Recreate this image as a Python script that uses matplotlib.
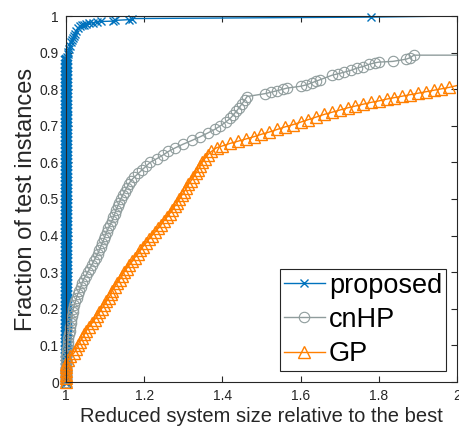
import numpy as np
import matplotlib
matplotlib.use("Agg")
import matplotlib.pyplot as plt
from matplotlib.ticker import FuncFormatter

plt.rcParams['font.family'] = ['Liberation Sans', 'DejaVu Sans']

# proposed (blue): most instances sit at ratio 1.0
prop_x = [1.0, 1.0, 1.0, 1.0, 1.0, 1.0, 1.0, 1.0, 1.0, 1.0, 1.0, 1.0, 1.0, 1.0, 1.0,
          1.0, 1.0, 1.0, 1.0, 1.0, 1.0, 1.0, 1.0, 1.0, 1.0, 1.0, 1.0, 1.0, 1.0, 1.0,
          1.0, 1.0, 1.0, 1.0, 1.0, 1.0, 1.0, 1.0, 1.0, 1.0, 1.0, 1.0, 1.0, 1.0, 1.0,
          1.0, 1.0, 1.0, 1.0, 1.0, 1.0, 1.0, 1.0, 1.0, 1.0, 1.0, 1.0, 1.0, 1.0, 1.0,
          1.0, 1.0, 1.0, 1.0, 1.0, 1.0, 1.0, 1.0, 1.0, 1.0, 1.0, 1.0, 1.0, 1.0, 1.0,
          1.0, 1.0, 1.0, 1.0, 1.0, 1.0, 1.0, 1.0, 1.0, 1.0, 1.0, 1.0, 1.0, 1.0,
          1.002, 1.004, 1.006, 1.008, 1.01, 1.013, 1.015, 1.018, 1.02, 1.022, 1.026,
          1.03, 1.035, 1.04, 1.045, 1.05, 1.06, 1.07, 1.08, 1.09, 1.12, 1.125, 1.16,
          1.17, 1.78, 2.0]
prop_y = [0.00, 0.01, 0.02, 0.03, 0.04, 0.05, 0.06, 0.07, 0.08, 0.09, 0.10, 0.11,
          0.12, 0.13, 0.14, 0.15, 0.16, 0.17, 0.18, 0.19, 0.20, 0.21, 0.22, 0.23,
          0.24, 0.25, 0.26, 0.27, 0.28, 0.29, 0.30, 0.31, 0.32, 0.33, 0.34, 0.35,
          0.36, 0.37, 0.38, 0.39, 0.40, 0.41, 0.42, 0.43, 0.44, 0.45, 0.46, 0.47,
          0.48, 0.49, 0.50, 0.51, 0.52, 0.53, 0.54, 0.55, 0.56, 0.57, 0.58, 0.59,
          0.60, 0.61, 0.62, 0.63, 0.64, 0.65, 0.66, 0.67, 0.68, 0.69, 0.70, 0.71,
          0.72, 0.73, 0.74, 0.75, 0.76, 0.77, 0.78, 0.79, 0.80, 0.81, 0.82, 0.83,
          0.84, 0.85, 0.86, 0.87, 0.88,
          0.888, 0.895, 0.902, 0.91, 0.918, 0.928, 0.935, 0.94, 0.945, 0.95, 0.96,
          0.967, 0.972, 0.975, 0.976, 0.977, 0.98, 0.982, 0.984, 0.985, 0.986, 0.988, 0.99,
          0.993, 0.997, 1.0]

# cnHP (gray)
cnhp_x = [1.000, 1.000, 1.000, 1.000, 1.000, 1.000, 1.001, 1.001, 1.002, 1.003,
          1.004, 1.005, 1.006, 1.007, 1.009, 1.010, 1.012, 1.013, 1.015, 1.017,
          1.019, 1.021, 1.024, 1.027, 1.030, 1.034, 1.038, 1.041, 1.045, 1.050,
          1.056, 1.061, 1.066, 1.071, 1.076, 1.081, 1.085, 1.089, 1.093, 1.097,
          1.100, 1.104, 1.108, 1.113, 1.118, 1.121, 1.125, 1.128, 1.132, 1.136,
          1.140, 1.145, 1.150, 1.155, 1.160, 1.166, 1.175, 1.185, 1.195, 1.205,
          1.215, 1.232, 1.248, 1.262, 1.280, 1.300, 1.322, 1.343, 1.362, 1.380,
          1.395, 1.408, 1.420, 1.428, 1.436, 1.443, 1.450, 1.457, 1.463,
          1.51, 1.525, 1.54, 1.555, 1.565, 1.60, 1.615, 1.63, 1.64, 1.65, 1.68,
          1.695, 1.71, 1.73, 1.745, 1.76, 1.775, 1.79, 1.80, 1.836, 1.87, 1.88, 1.89, 2.0]
cnhp_y = [0.00, 0.01, 0.02, 0.03, 0.04, 0.05, 0.06, 0.07, 0.08, 0.09,
          0.10, 0.11, 0.12, 0.13, 0.14, 0.15, 0.16, 0.17, 0.18, 0.19,
          0.20, 0.21, 0.22, 0.23, 0.24, 0.25, 0.26, 0.27, 0.28, 0.29,
          0.30, 0.31, 0.32, 0.33, 0.34, 0.35, 0.36, 0.37, 0.38, 0.39,
          0.40, 0.41, 0.42, 0.43, 0.44, 0.45, 0.46, 0.47, 0.48, 0.49,
          0.50, 0.51, 0.52, 0.53, 0.54, 0.55, 0.56, 0.57, 0.58, 0.59,
          0.60, 0.61, 0.62, 0.63, 0.64, 0.65, 0.66, 0.67, 0.68, 0.69,
          0.70, 0.71, 0.72, 0.73, 0.74, 0.75, 0.76, 0.77, 0.78,
          0.788, 0.792, 0.796, 0.80, 0.803, 0.808, 0.812, 0.818, 0.822, 0.826, 0.838,
          0.842, 0.846, 0.852, 0.858, 0.862, 0.868, 0.872, 0.874, 0.876, 0.882, 0.886, 0.893, 0.893]

# GP (orange)
gp_x = [1.000, 1.000, 1.000, 1.000, 1.000, 1.001, 1.005, 1.011, 1.021, 1.026,
        1.030, 1.035, 1.041, 1.047, 1.052, 1.058, 1.066, 1.073, 1.079, 1.085,
        1.091, 1.097, 1.103, 1.109, 1.115, 1.118, 1.125, 1.130, 1.137, 1.143,
        1.148, 1.155, 1.162, 1.170, 1.176, 1.184, 1.190, 1.197, 1.205, 1.212,
        1.220, 1.228, 1.236, 1.244, 1.250, 1.258, 1.265, 1.272, 1.278, 1.284,
        1.290, 1.296, 1.302, 1.308, 1.313, 1.320, 1.326, 1.332, 1.337, 1.343,
        1.348, 1.355, 1.362, 1.372, 1.385,
        1.40, 1.42, 1.44, 1.46, 1.48, 1.50, 1.52, 1.54, 1.56, 1.58,
        1.60, 1.62, 1.64, 1.66, 1.68, 1.70, 1.72, 1.74, 1.76, 1.78, 1.80, 1.82, 1.84,
        1.86, 1.88, 1.90, 1.92, 1.94, 1.96, 1.98, 2.0]
gp_y = [0.00, 0.01, 0.02, 0.03, 0.04, 0.05, 0.06, 0.07, 0.08, 0.09,
        0.10, 0.11, 0.12, 0.13, 0.14, 0.15, 0.16, 0.17, 0.18, 0.19,
        0.20, 0.21, 0.22, 0.23, 0.24, 0.25, 0.26, 0.27, 0.28, 0.29,
        0.30, 0.31, 0.32, 0.33, 0.34, 0.35, 0.36, 0.37, 0.38, 0.39,
        0.40, 0.41, 0.42, 0.43, 0.44, 0.45, 0.46, 0.47, 0.48, 0.49,
        0.50, 0.51, 0.52, 0.53, 0.54, 0.55, 0.56, 0.57, 0.58, 0.59,
        0.60, 0.61, 0.62, 0.63, 0.64,
        0.645, 0.652, 0.658, 0.664, 0.67, 0.677, 0.683, 0.69, 0.697, 0.703,
        0.71, 0.717, 0.724, 0.731, 0.737, 0.743, 0.749, 0.754, 0.759, 0.764, 0.768, 0.773, 0.777,
        0.781, 0.785, 0.789, 0.793, 0.797, 0.801, 0.805, 0.81]

blue = '#0072BD'
gray = '#8F9C9C'
orange = '#FF7F00'

fig = plt.figure(figsize=(4.6, 4.34), dpi=100)
ax = fig.add_axes([66/460, 52/434, 391/460, 366/434])

# lines clipped to the box, markers left unclipped (like MATLAB)
n_col = 89  # stacked column of proposed points at ratio 1.0
ax.plot(prop_x, prop_y, color=blue, lw=1)
ax.plot(prop_x[:n_col], prop_y[:n_col], ls='none', color=blue, marker='x', ms=6.5, mew=2.2, clip_on=False)
ax.plot(prop_x[n_col:-1], prop_y[n_col:-1], ls='none', color=blue, marker='x', ms=6, mew=1, clip_on=False)
ax.plot(cnhp_x, cnhp_y, color=gray, lw=1)
ax.plot(cnhp_x[:-1], cnhp_y[:-1], ls='none', color=gray, marker='o', ms=7.5, mfc='none', mew=0.8, clip_on=False)
ax.plot(gp_x, gp_y, color=orange, lw=1)
ax.plot(gp_x[:-1], gp_y[:-1], ls='none', color=orange, marker='^', ms=8, mfc='none', mew=1, clip_on=False)

# legend proxies
ax.plot([], [], color=blue, marker='x', ms=6, mew=1, lw=1, label='proposed')
ax.plot([], [], color=gray, marker='o', ms=7.5, mfc='none', mew=0.8, lw=1, label='cnHP')
ax.plot([], [], color=orange, marker='^', ms=8, mfc='none', mew=1, lw=1, label='GP')

ax.set_xlim(1, 2)
ax.set_ylim(0, 1)
ax.set_xticks(np.arange(1, 2.01, 0.2))
ax.set_yticks(np.arange(0, 1.01, 0.1))
ax.xaxis.set_major_formatter(FuncFormatter(lambda v, p: f"{v:g}"))
ax.yaxis.set_major_formatter(FuncFormatter(lambda v, p: f"{v:g}"))
ax.tick_params(direction='in', top=True, right=True, length=4, width=0.8,
               labelsize=10, colors='#262626', pad=5)
for s in ax.spines.values():
    s.set_color('#262626')
    s.set_linewidth(0.8)
    s.set_zorder(3)

ax.set_xlabel("Reduced system size relative to the best", fontsize=14.5, color='#262626', labelpad=3)
ax.set_ylabel("Fraction of test instances", fontsize=17, color='#262626', labelpad=2)

leg = ax.legend(loc='lower right', fontsize=19.5, fancybox=False, edgecolor='#262626',
                framealpha=1, numpoints=1, handlelength=1.5, handletextpad=0.15,
                labelspacing=0.3, borderpad=0.15, borderaxespad=0.4)
leg.get_frame().set_linewidth(0.8)
leg.set_zorder(10)

fig.savefig("out.png", dpi=100)
